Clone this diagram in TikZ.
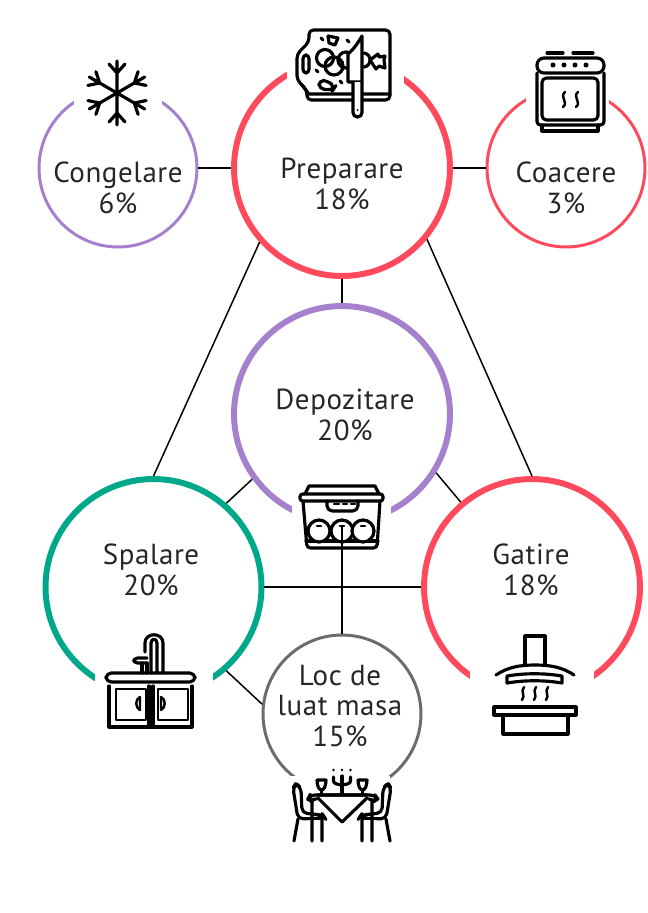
\documentclass[tikz,border=0pt]{standalone}
\usepackage{fontspec}
\setmainfont{PT Sans}[LetterSpace=2]
\usepackage{xcolor}
\definecolor{ringPurple}{RGB}{165, 128, 204}
\definecolor{ringRed}{RGB}{255, 74, 94}
\definecolor{ringGreen}{RGB}{0, 168, 138}
\definecolor{ringGray}{RGB}{108, 108, 108}
\tikzset{
    bigring/.style={circle, draw, line width=3.4pt, minimum size=4.32cm, inner sep=0pt},
    smallring/.style={circle, draw, line width=1.7pt, minimum size=3.16cm, inner sep=0pt},
    ringtext/.style={align=center, inner sep=0pt, font=\fontsize{16.5}{17.6}\selectfont, text=black!85},
    wire/.style={line width=0.85pt, black},
    iconpen/.style={line width=1.8pt, black, line cap=round, line join=round},
    iconthin/.style={line width=1.4pt, black, line cap=round, line join=round}
}

\begin{document}
\begin{tikzpicture}[x=0.02cm, y=-0.02cm]
    \useasboundingbox (0,0) rectangle (647,913);

    % rings
    \node[bigring, draw=ringRed] (preparare) at (342,168) {};
    \node[smallring, draw=ringPurple] (congelare) at (118,168) {};
    \node[smallring, draw=ringRed] (coacere) at (566,168) {};
    \node[bigring, draw=ringPurple] (depozitare) at (342,414) {};
    \node[bigring, draw=ringGreen] (spalare) at (153.5,587) {};
    \node[bigring, draw=ringRed] (gatire) at (532,587) {};
    \node[smallring, draw=ringGray] (masa) at (342,714) {};

    % gaps in the rings, behind the icons
    \fill[white] (287,30) rectangle (404,120);
    \fill[white] (74,50) rectangle (162,130);
    \fill[white] (526,50) rectangle (609,130);
    \fill[white] (292,490) rectangle (391,555);
    \fill[white] (95,640) rectangle (213,730);
    \fill[white] (470,640) rectangle (594,730);
    \fill[white] (290,776) rectangle (390,845);

    % connectors
    \draw[wire] (congelare.east) -- (preparare.west);
    \draw[wire] (preparare.east) -- (coacere.west);
    \draw[wire] (preparare.south) -- (depozitare.north);
    \draw[wire] (preparare.222) -- (spalare.north);
    \draw[wire] (preparare.320) -- (gatire.north);
    \draw[wire] (depozitare.216) -- (spalare.49);
    \draw[wire] (depozitare.328) -- (gatire.130);
    \draw[wire] (spalare.east) -- (gatire.west);
    \draw[wire] (spalare.311) -- (masa.173);

    % labels
    \node[ringtext] (preparareText) at (342,184) {Preparare\\18\%};
    \node[ringtext] (congelareText) at (118,188) {Congelare\\6\%};
    \node[ringtext] (coacereText) at (566,188) {Coacere\\3\%};
    \node[ringtext] (depozitareText) at (345,415) {Depozitare\\20\%};
    \node[ringtext] (spalareText) at (151,570) {Spalare\\20\%};
    \node[ringtext] (gatireText) at (531,570) {Gatire\\18\%};
    \node[ringtext] (masaText) at (340,706) {Loc de\\luat masa\\15\%};

    % cutting board
    \draw[iconpen, rounded corners=2.5pt, fill=white] (309,30) -- (390,30) -- (390,100) -- (307,100) -- (307,90) -- (297,80) -- (297,54) -- (309,42) -- cycle;
    \draw[iconpen] (301,84) -- (309,94) -- (390,94);
    \draw[iconpen, rounded corners=2pt] (303,55) rectangle (309,73);
    \draw[iconpen] (325,58) circle (8.5);
    \draw[iconpen] (334,66) circle (9);
    \draw[iconpen] (346,60) circle (8);
    \draw[iconpen] (328,36) -- (338,38) -- (335,45) -- (329,43) -- cycle;
    \draw[iconpen, rounded corners=3pt] (319,80) -- (328,81) -- (335,87) -- (333,90) -- (319,89) -- cycle;
    \foreach \dotx/\doty in {322/39, 348/41, 317/71, 341/82}
        \draw[iconpen] (\dotx-1,\doty-1) -- (\dotx+1,\doty+1);
    \draw[iconpen] (364,53) .. controls (372,54) and (372,66) .. (364,67);
    \draw[iconpen] (370,60) -- (378,54) -- (379,57) -- (385,56) -- (384,60) -- (385,68) -- (379,66) -- (376,69) -- cycle;
    \draw[iconpen, fill=white] (362,36) -- (362,82) -- (348,82) -- (348,54) .. controls (353,50) and (358,43) .. (362,36) -- cycle;
    \draw[iconpen, fill=white, rounded corners=2.5pt] (353,82) -- (353,117) -- (362,117) -- (362,82);
    \fill (357.5,110) circle (1);

    % snowflake
    \foreach \armangle in {90,30,-30,-90,-150,150}
        \draw[iconpen, shift={(117,93)}, rotate=\armangle] (0,0) -- (32,0) (20,0) -- (29,8) (20,0) -- (29,-8);

    % oven
    \draw[iconpen] (547,53) -- (563,53) (573,53) -- (593,53);
    \draw[iconpen, rounded corners=4pt] (537,73) -- (537,58) -- (604,58) -- (604,73) -- cycle;
    \draw[iconpen, rounded corners=2pt] (537,73) -- (537,125) -- (604,125) -- (604,73);
    \foreach \knobx in {553,564,575,586}
        \fill (\knobx,65) circle (2.5);
    \draw[iconpen, rounded corners=2.5pt] (542,78) rectangle (598,120);
    \draw[iconpen] (542,125) -- (542,131) -- (598,131) -- (598,125);
    \draw[iconthin] (565,92) .. controls (559,97) and (569,102) .. (563,107);
    \draw[iconthin] (578,92) .. controls (572,97) and (582,102) .. (576,107);

    % food container
    \draw[iconpen] (305,494) -- (309,486) -- (375,486) -- (379,494);
    \draw[iconpen, rounded corners=1.5pt] (300,494) rectangle (383,501);
    \draw[iconpen, rounded corners=2pt] (303,501) -- (307,548) -- (377,548) -- (380,501);
    \draw[iconpen] (306,541) -- (378,541);
    \draw[iconpen, rounded corners=3pt] (327,501) -- (327,511) -- (358,511) -- (358,501);
    \draw[iconthin] (334,504) -- (339,504) (343,504) -- (347,504) (351,504) -- (355,504);
    \foreach \ballx in {319,342,363} {
        \draw[iconpen, fill=white] (\ballx,531) circle (11);
        \draw[iconthin] (\ballx-2,526) -- (\ballx+2,526);
    }
    \draw[wire, line width=1.2pt] (depozitare.south) -- (masa.north);

    % sink
    \draw[iconpen, rounded corners=3pt] (106,673) rectangle (195,682);
    \draw[iconpen] (145,652) -- (145,643) .. controls (145,632) and (163,632) .. (163,643) -- (163,673);
    \draw[iconpen] (151,673) -- (151,643) .. controls (151,638) and (157,638) .. (157,643) -- (157,673);
    \draw[iconpen, rounded corners=2pt] (147,658) -- (134,658) -- (134,663) -- (147,663);
    \draw[iconpen] (142,663) -- (142,673) (147,663) -- (147,673);
    \draw[iconpen] (109,686) -- (109,727) -- (192,727) -- (192,686);
    \draw[iconthin] (116,689) rectangle (146,720);
    \draw[iconthin] (158,689) rectangle (188,720);
    \draw[iconpen] (149,686) -- (149,727) (153,686) -- (153,727);
    \draw[iconthin] (140,697) .. controls (135,699) and (135,708) .. (140,710) -- cycle;
    \draw[iconthin] (161,697) .. controls (166,699) and (166,708) .. (161,710) -- cycle;

    % cooker hood
    \draw[iconpen] (525,665) -- (525,636) -- (545,636) -- (545,665);
    \draw[iconpen] (496,675) .. controls (508,667) and (520,665) .. (535,665) .. controls (550,665) and (562,667) .. (574,675);
    \draw[iconpen] (507,676) .. controls (525,673) and (544,673) .. (562,676) -- (562,683) .. controls (544,680) and (525,680) .. (507,683) -- cycle;
    \foreach \steamx in {523,535,547}
        \draw[iconthin] (\steamx+1,687) .. controls (\steamx-3,692) and (\steamx+3,695) .. (\steamx-1,700);
    \draw[iconpen] (494,707) rectangle (576,715);
    \draw[iconpen] (503,715) -- (503,734) -- (568,734) -- (568,715);

    % dining table
    \draw[iconpen] (318,798) -- (342,822) -- (367,798);
    \draw[iconpen, rounded corners=3pt] (317,795) -- (375,795) -- (378,799) -- (373,802) -- (369,799);
    \draw[iconpen, rounded corners=3pt] (367,795) -- (310,795) -- (308,799) -- (312,802) -- (316,799);
    \draw[iconpen] (317,780) -- (326,780) .. controls (326,786) and (324,790) .. (321.5,790) .. controls (319,790) and (317,786) .. (317,780);
    \draw[iconpen] (321.5,790) -- (321.5,795);
    \draw[iconpen] (358,780) -- (367,780) .. controls (367,786) and (365,790) .. (362.5,790) .. controls (360,790) and (358,786) .. (358,780);
    \draw[iconpen] (362.5,790) -- (362.5,795);
    \draw[iconpen] (342,776) -- (342,795);
    \draw[iconpen] (333.5,777) -- (333.5,781) .. controls (333.5,786) and (350.5,786) .. (350.5,781) -- (350.5,777);
    \foreach \flamex in {333.5,342,350.5}
        \fill (\flamex,770) circle (1.4);
    % left chair
    \draw[iconpen, rounded corners=3pt] (298,819) -- (293,788) -- (296,783) -- (301,788) -- (302,813) -- (323,815) -- (325,818) -- cycle;
    \draw[iconpen] (298,819) -- (294,841) (312,800) -- (312,841) (322,819) -- (322,841);
    % right chair
    \draw[iconpen, rounded corners=3pt] (386,819) -- (391,788) -- (388,783) -- (383,788) -- (382,813) -- (361,815) -- (359,818) -- cycle;
    \draw[iconpen] (386,819) -- (390,841) (372,800) -- (372,841) (362,819) -- (362,841);
\end{tikzpicture}
\end{document}
